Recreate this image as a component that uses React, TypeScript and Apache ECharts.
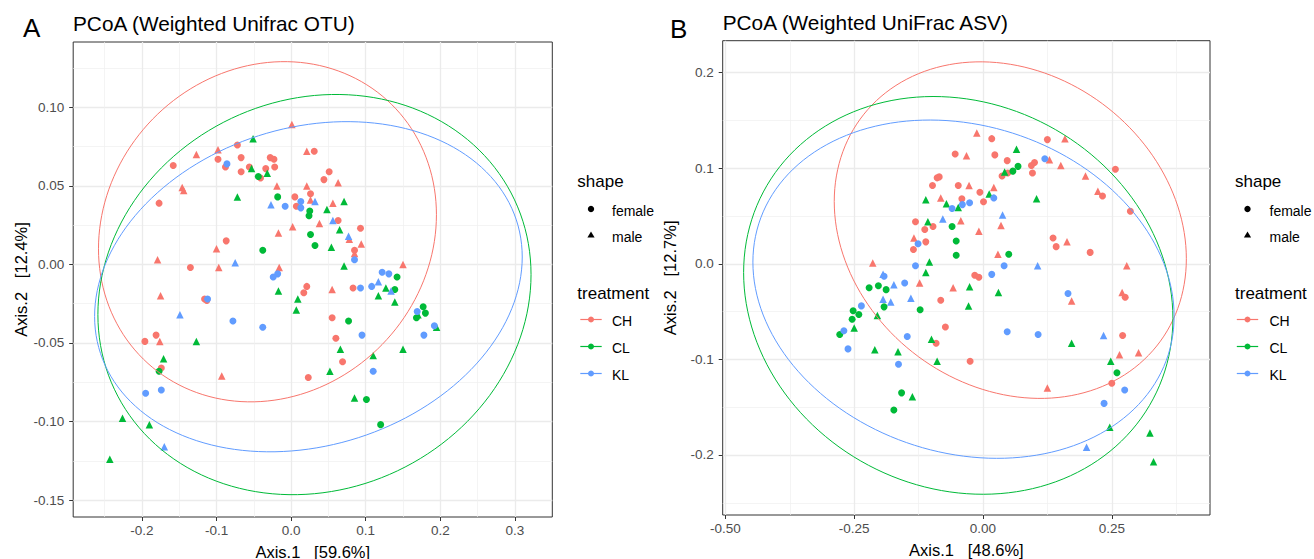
import React, { useEffect, useRef } from "react";
import * as echarts from "echarts";

const FONT = "'Liberation Sans', Arial, Helvetica, sans-serif";

const treatments = ["CH", "CL", "KL"];
const treatmentColors = ["#F8766D", "#00BA38", "#619CFF"];
const shapes = ["female", "male"];

// ---- Panel A: Weighted Unifrac OTU ----
const otuCHfemale = [
  [-0.072, 0.076], [-0.158, 0.063], [-0.098, 0.067], [-0.088, 0.062], [-0.067, 0.068], [-0.028, 0.068],
  [-0.023, 0.067], [-0.022, 0.062], [-0.056, 0.062], [-0.034, 0.061], [-0.067, 0.059], [-0.041, 0.055],
  [0.031, 0.072], [0.051, 0.059], [0.044, 0.054], [-0.177, 0.039], [0.005, 0.043], [0.026, 0.045],
  [0.007, 0.037], [0.063, 0.028], [0.093, 0.023], [0.085, 0.009], [-0.087, 0.015], [-0.135, -0.002],
  [0.083, -0.015], [0.021, -0.014], [0.017, -0.018], [-0.116, -0.022], [-0.113, -0.023], [0.055, -0.034],
  [0.060, -0.047], [-0.181, -0.045], [-0.196, -0.049], [-0.174, -0.066], [0.069, -0.062], [0.023, -0.072],
];
const otuCHmale = [
  [0.001, 0.089], [-0.127, 0.070], [-0.098, 0.073], [0.021, 0.072], [0.063, 0.052], [-0.019, 0.050],
  [0.021, 0.050], [-0.146, 0.049], [-0.144, 0.047], [0.026, 0.041], [0.056, 0.039], [0.038, 0.026],
  [0.002, 0.024], [-0.017, 0.020], [0.078, 0.016], [0.094, 0.013], [0.085, 0.007], [-0.100, 0.010],
  [-0.179, 0.003], [-0.097, -0.002], [-0.016, -0.002], [0.150, 0.000], [0.055, -0.016], [-0.175, -0.020],
  [-0.176, -0.049], [-0.093, -0.071],
];
const otuCLfemale = [
  [-0.044, 0.056], [-0.018, 0.043], [0.025, 0.034], [0.024, 0.031], [0.026, 0.019], [0.032, 0.012],
  [-0.038, 0.009], [0.142, -0.008], [0.139, -0.016], [0.077, -0.036], [0.177, -0.027], [0.168, -0.034],
  [0.180, -0.031], [-0.177, -0.068], [0.101, -0.086], [0.120, -0.102],
];
const otuCLmale = [
  [-0.051, 0.080], [-0.053, 0.061], [-0.032, 0.058], [-0.072, 0.043], [0.048, 0.035], [0.071, 0.040],
  [0.065, 0.022], [0.054, 0.011], [0.071, -0.001], [0.127, -0.015], [0.117, -0.020], [0.139, -0.024],
  [-0.017, -0.017], [0.009, -0.022], [0.007, -0.029], [0.170, -0.032], [0.195, -0.040], [-0.127, -0.049],
  [-0.171, -0.060], [-0.226, -0.098], [-0.190, -0.102], [-0.243, -0.124], [0.066, -0.054], [0.052, -0.068],
  [0.110, -0.058], [0.150, -0.054], [0.085, -0.085],
];
const otuKLfemale = [
  [-0.086, 0.064], [0.013, 0.040], [-0.008, 0.037], [0.013, 0.036], [0.085, 0.003], [-0.018, -0.006],
  [-0.024, -0.008], [0.122, -0.005], [0.131, -0.006], [0.108, -0.014], [0.093, -0.015], [-0.112, -0.022],
  [-0.078, -0.036], [-0.038, -0.040], [0.095, -0.045], [0.169, -0.030], [0.192, -0.039], [0.178, -0.045],
  [-0.195, -0.082], [-0.174, -0.080], [0.110, -0.068],
];
const otuKLmale = [
  [0.032, 0.040], [-0.027, 0.038], [0.056, 0.028], [0.077, 0.018], [-0.075, 0.001], [0.117, -0.011],
  [0.134, -0.017], [-0.149, -0.032], [-0.170, -0.116],
];
// 95% ellipses: [centre x, centre y, half-width, half-height, skew (sin of phase)]
const otuEllipses = [
  [-0.0317, 0.0208, 0.2265, 0.1083, 0.10],
  [0.0313, -0.0192, 0.2903, 0.1274, 0.10],
  [0.0232, -0.0142, 0.2866, 0.1051, 0.18],
];

// ---- Panel B: Weighted UniFrac ASV ----
const asvCHfemale = [
  [0.017, 0.131], [0.125, 0.130], [-0.054, 0.115], [0.023, 0.114], [0.047, 0.108], [0.100, 0.106],
  [0.094, 0.103], [0.096, 0.095], [0.048, 0.095], [0.037, 0.092], [0.257, 0.099], [-0.085, 0.091],
  [-0.089, 0.090], [-0.098, 0.082], [-0.048, 0.082], [0.232, 0.071], [-0.041, 0.068], [-0.006, 0.075],
  [0.001, 0.065], [0.286, 0.055], [-0.131, 0.044], [-0.097, 0.039], [-0.113, 0.036], [-0.111, 0.023],
  [-0.135, 0.015], [0.136, 0.027], [0.142, 0.018], [0.208, 0.012], [-0.016, -0.012], [-0.008, -0.014],
  [-0.082, -0.038], [0.276, -0.035], [-0.073, -0.066], [0.271, -0.075], [-0.091, -0.083], [-0.025, -0.102],
  [0.250, -0.125],
];
const asvCHmale = [
  [-0.012, 0.137], [0.159, 0.131], [-0.032, 0.113], [0.129, 0.109], [0.151, 0.103], [0.199, 0.092],
  [-0.027, 0.082], [0.021, 0.080], [0.223, 0.076], [-0.082, 0.069], [-0.043, 0.045], [-0.008, 0.034],
  [0.035, 0.040], [-0.134, 0.027], [0.029, 0.010], [0.163, 0.023], [-0.214, 0.001], [-0.123, -0.020],
  [0.279, -0.002], [-0.058, -0.025], [0.172, -0.039], [0.270, -0.030], [0.125, -0.130], [0.265, -0.095],
  [0.302, -0.093],
];
const asvCLfemale = [
  [0.068, 0.102], [0.058, 0.097], [-0.060, 0.039], [-0.052, 0.024], [-0.052, 0.009], [0.050, 0.010],
  [-0.221, -0.025], [-0.203, -0.023], [-0.188, -0.027], [-0.192, -0.045], [-0.252, -0.049], [-0.241, -0.053],
  [-0.254, -0.058], [-0.278, -0.074], [-0.122, -0.048], [-0.158, -0.135], [-0.173, -0.153], [0.260, -0.114],
];
const asvCLmale = [
  [0.065, 0.120], [0.042, 0.096], [0.012, 0.073], [-0.111, 0.067], [-0.071, 0.063], [-0.048, 0.059],
  [0.104, 0.068], [-0.107, 0.044], [-0.104, 0.002], [-0.111, -0.009], [-0.205, -0.054], [-0.250, -0.067],
  [-0.026, -0.024], [0.030, -0.030], [-0.028, -0.044], [-0.100, -0.079], [0.172, -0.083], [-0.210, -0.090],
  [-0.165, -0.092], [-0.089, -0.102], [-0.137, -0.139], [0.248, -0.102], [0.246, -0.171], [0.324, -0.177],
  [0.331, -0.207],
];
const asvKLfemale = [
  [0.120, 0.110], [0.021, 0.069], [-0.040, 0.062], [-0.026, 0.064], [-0.060, 0.058], [-0.126, 0.021],
  [-0.131, -0.002], [-0.192, -0.013], [-0.152, -0.020], [-0.236, -0.044], [-0.270, -0.070], [-0.147, -0.076],
  [0.017, -0.011], [0.041, -0.002], [0.165, -0.031], [0.047, -0.071], [0.107, -0.074], [-0.262, -0.089],
  [-0.164, -0.105], [0.275, -0.132], [0.235, -0.146],
];
const asvKLmale = [
  [0.038, 0.051], [-0.078, 0.047], [-0.194, -0.011], [-0.173, -0.022], [-0.194, -0.037], [-0.179, -0.040],
  [-0.140, -0.036], [0.106, -0.002], [0.234, -0.075], [0.201, -0.192],
];
const asvEllipses = [
  [0.053, 0.0353, 0.3417, 0.1761, -0.17],
  [-0.048, -0.033, 0.4166, 0.2081, -0.115],
  [-0.0378, -0.0265, 0.4088, 0.177, -0.16],
];

// Axis ticks
const otuXTicks = [-0.2, -0.1, 0, 0.1, 0.2, 0.3];
const otuXMinor = [-0.25, -0.15, -0.05, 0.05, 0.15, 0.25];
const otuYTicks = [-0.15, -0.1, -0.05, 0, 0.05, 0.1];
const otuYMinor = [-0.125, -0.075, -0.025, 0.025, 0.075, 0.125];
const asvXTicks = [-0.5, -0.25, 0, 0.25];
const asvXMinor = [-0.375, -0.125, 0.125, 0.375];
const asvYTicks = [-0.2, -0.1, 0, 0.1, 0.2];
const asvYMinor = [-0.25, -0.15, -0.05, 0.05, 0.15];

const panels = [
  {
    tag: "A",
    title: "PCoA (Weighted Unifrac OTU)",
    xTitle: "Axis.1   [59.6%]",
    yTitle: "Axis.2   [12.4%]",
    points: [[otuCHfemale, otuCHmale], [otuCLfemale, otuCLmale], [otuKLfemale, otuKLmale]],
    ellipses: otuEllipses,
    xTicks: otuXTicks, xMinor: otuXMinor, yTicks: otuYTicks, yMinor: otuYMinor,
    xDigits: 1, yDigits: 2,
    xRange: [-0.2921, 0.3501], yRange: [-0.1608, 0.1416],
    grid: { left: 73.2, top: 42, width: 479.1, height: 475 },
    tagPos: [23, 28], titlePos: [73, 23], legendX: 577.3, keyX: 591, labelX: 612,
  },
  {
    tag: "B",
    title: "PCoA (Weighted UniFrac ASV)",
    xTitle: "Axis.1   [48.6%]",
    yTitle: "Axis.2   [12.7%]",
    points: [[asvCHfemale, asvCHmale], [asvCLfemale, asvCLmale], [asvKLfemale, asvKLmale]],
    ellipses: asvEllipses,
    xTicks: asvXTicks, xMinor: asvXMinor, yTicks: asvYTicks, yMinor: asvYMinor,
    xDigits: 2, yDigits: 1,
    xRange: [-0.5052, 0.4406], yRange: [-0.2628, 0.2335],
    grid: { left: 722.7, top: 40.7, width: 487.3, height: 474.3 },
    tagPos: [670, 28.5], titlePos: [722.7, 22.5], legendX: 1235, keyX: 1247.5, labelX: 1269.5,
  },
];

function majorAxis(gridIndex: number, range: number[], ticks: number[], digits: number, isX: boolean) {
  return {
    type: "value",
    gridIndex,
    min: range[0],
    max: range[1],
    position: isX ? "bottom" : "left",
    axisLine: { show: false, onZero: false },
    axisTick: { show: true, length: 4, customValues: ticks, lineStyle: { color: "#333333", width: 1 } },
    axisLabel: {
      customValues: ticks,
      formatter: (v: number) => v.toFixed(digits),
      color: "#4D4D4D",
      fontSize: 13.5,
      fontFamily: FONT,
      margin: isX ? 6 : 9,
    },
    splitLine: { show: true, lineStyle: { color: "#EBEBEB", width: 1.3 } },
  };
}

function minorAxis(gridIndex: number, range: number[], values: number[], isX: boolean) {
  return {
    type: "value",
    gridIndex,
    min: range[0],
    max: range[1],
    position: isX ? "top" : "right",
    axisLine: { show: false, onZero: false },
    axisTick: { show: false, customValues: values },
    axisLabel: { show: false, customValues: values },
    splitLine: { show: true, lineStyle: { color: "#EFEFEF", width: 0.7 } },
  };
}

function ellipseRenderer(color: string) {
  return (params: any, api: any) => {
    const cx = api.value(0);
    const cy = api.value(1);
    const rx = api.value(2);
    const ry = api.value(3);
    const phi = Math.asin(api.value(4));
    const pts: number[][] = [];
    const n = 160;
    for (let k = 0; k <= n; k++) {
      const t = (k / n) * Math.PI * 2;
      pts.push(api.coord([cx + rx * Math.cos(t), cy + ry * Math.sin(t + phi)]));
    }
    return {
      type: "polyline",
      shape: { points: pts },
      style: { stroke: color, fill: null, lineWidth: 1 },
    };
  };
}

function textEl(text: string, x: number, y: number, size: number, color = "#000000", extra: any = {}) {
  const { center, ...rest } = extra;
  return {
    type: "text",
    x,
    y,
    silent: true,
    ...rest,
    style: {
      text,
      fill: color,
      fontSize: size,
      fontFamily: FONT,
      textAlign: center ? "center" : "left",
      align: center ? "center" : "left",
      textVerticalAlign: "middle",
      verticalAlign: "middle",
    },
  };
}

function buildOption() {
  const xAxis: any[] = [];
  const yAxis: any[] = [];
  const grid: any[] = [];
  const series: any[] = [];
  const graphic: any[] = [];

  panels.forEach((p, pi) => {
    grid.push({
      ...p.grid,
      show: true,
      backgroundColor: "#FFFFFF",
      borderColor: "#333333",
      borderWidth: 1,
      containLabel: false,
    });
    xAxis.push(majorAxis(pi, p.xRange, p.xTicks, p.xDigits, true));
    xAxis.push(minorAxis(pi, p.xRange, p.xMinor, true));
    yAxis.push(majorAxis(pi, p.yRange, p.yTicks, p.yDigits, false));
    yAxis.push(minorAxis(pi, p.yRange, p.yMinor, false));
    const ax = pi * 2;

    treatments.forEach((t, ti) => {
      shapes.forEach((s, si) => {
        series.push({
          name: `${p.tag}-${t}-${s}`,
          type: "scatter",
          xAxisIndex: ax,
          yAxisIndex: ax,
          data: p.points[ti][si],
          symbol: si === 0 ? "circle" : "triangle",
          symbolSize: si === 0 ? 7 : 7.5,
          itemStyle: { color: treatmentColors[ti], opacity: 1 },
          silent: true,
          z: 2,
        });
      });
    });
    treatments.forEach((t, ti) => {
      series.push({
        name: `${p.tag}-${t}-ellipse`,
        type: "custom",
        coordinateSystem: "cartesian2d",
        xAxisIndex: ax,
        yAxisIndex: ax,
        data: [p.ellipses[ti]],
        renderItem: ellipseRenderer(treatmentColors[ti]),
        clip: true,
        silent: true,
        z: 3,
      });
    });

    const g = p.grid;
    const bottom = g.top + g.height;
    // panel tag and title
    graphic.push(textEl(p.tag, p.tagPos[0], p.tagPos[1], 26));
    graphic.push(textEl(p.title, p.titlePos[0], p.titlePos[1], 20.8));
    // axis titles
    graphic.push(textEl(p.xTitle, g.left + g.width / 2, bottom + 34.5, 16.5, "#000000", { center: true }));
    graphic.push(
      textEl(p.yTitle, g.left - 52.5, g.top + g.height / 2, 16.5, "#000000", { center: true, rotation: Math.PI / 2 })
    );

    // legend: shape
    const lx = p.legendX;
    const kx = p.keyX;
    const tx = p.labelX;
    graphic.push(textEl("shape", lx, 181, 17));
    graphic.push({
      type: "circle",
      silent: true,
      shape: { cx: kx, cy: 209, r: 3.2 },
      style: { fill: "#000000" },
    });
    graphic.push(textEl("female", tx, 210.5, 14));
    graphic.push({
      type: "polygon",
      silent: true,
      shape: { points: [[kx, 231.5], [kx - 3.6, 237.5], [kx + 3.6, 237.5]] },
      style: { fill: "#000000" },
    });
    graphic.push(textEl("male", tx, 237, 14));

    // legend: treatment
    graphic.push(textEl("treatment", lx, 293, 17));
    treatments.forEach((t, ti) => {
      const ky = 319.5 + ti * 27;
      graphic.push({
        type: "line",
        silent: true,
        shape: { x1: kx - 10.7, y1: ky, x2: kx + 10.7, y2: ky },
        style: { stroke: treatmentColors[ti], lineWidth: 1.2 },
      });
      graphic.push({
        type: "circle",
        silent: true,
        shape: { cx: kx, cy: ky, r: 3 },
        style: { fill: treatmentColors[ti] },
      });
      graphic.push(textEl(t, tx, ky + 1.8, 14));
    });
  });

  return {
    animation: false,
    backgroundColor: "#FFFFFF",
    textStyle: { fontFamily: FONT },
    grid,
    xAxis,
    yAxis,
    series,
    graphic,
  };
}

export default function App() {
  const ref = useRef<HTMLDivElement | null>(null);
  useEffect(() => {
    if (!ref.current) return;
    const chart = echarts.init(ref.current, undefined, { renderer: "svg" });
    chart.setOption(buildOption() as any);
    return () => chart.dispose();
  }, []);
  return (
    <div
      ref={ref}
      style={{ position: "fixed", left: 0, top: 0, width: 1314, height: 559, background: "#FFFFFF" }}
    />
  );
}
